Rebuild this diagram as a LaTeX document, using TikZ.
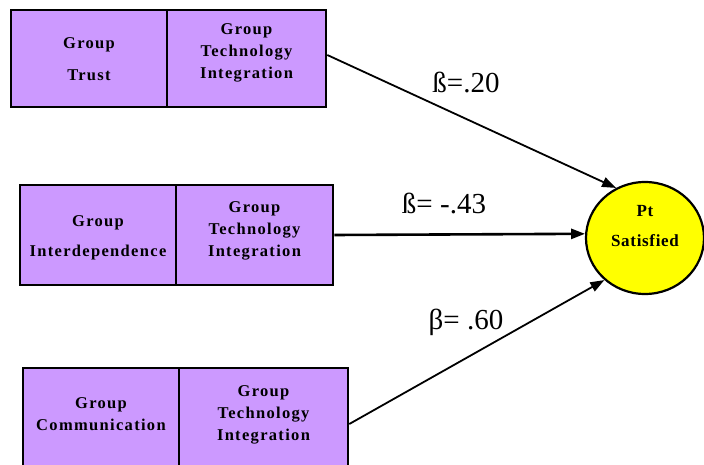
\documentclass[tikz,border=0pt]{standalone}
\usepackage{fontspec}
\setmainfont{Liberation Serif}
\newfontfamily\boxfont[LetterSpace=8]{Liberation Serif}
\newfontfamily\circfont[LetterSpace=4]{Liberation Serif}
\usetikzlibrary{shapes.geometric,arrows.meta}
\definecolor{boxpurple}{HTML}{CC99FF}
\definecolor{circyellow}{HTML}{FFFF00}
\tikzset{
  cell/.style={draw=black, line width=2.6pt, fill=boxpurple, inner sep=0pt},
  celltext/.style={font=\boxfont\bfseries\fontsize{16.5}{22}\selectfont, align=center, inner sep=0pt},
  arr/.style={line width=1.8pt, -{Triangle[length=14pt,width=10pt]}},
  coef/.style={font=\fontsize{29}{30}\selectfont, inner sep=0pt},
}
\begin{document}
\begin{tikzpicture}[x=1pt,y=-1pt]
\useasboundingbox (0,0) rectangle (704,465);
\clip (0,0) rectangle (704,465);
% row 1
\node[cell, minimum width=156pt, minimum height=97pt] (l1) at (89,58.5) {};
\node[cell, minimum width=159pt, minimum height=97pt] (r1) at (246.5,58.5) {};
\node[celltext] (l1t) at (89,59) {Group\\[10pt]Trust};
\node[celltext] (r1t) at (246.5,53) {Group\\Technology\\Integration};
% row 2
\node[cell, minimum width=156pt, minimum height=100pt] (l2) at (98,235) {};
\node[cell, minimum width=157pt, minimum height=100pt] (r2) at (254.5,235) {};
\node[celltext] (l2t) at (98,238) {Group\\[8pt]Interdependence};
\node[celltext] (r2t) at (254.5,231) {Group\\Technology\\Integration};
% row 3
\node[cell, minimum width=156pt, minimum height=112pt] (l3) at (101,424) {};
\node[cell, minimum width=169pt, minimum height=112pt] (r3) at (263.5,424) {};
\node[celltext] (l3t) at (101,414) {Group\\Communication};
\node[celltext] (r3t) at (263.5,415) {Group\\Technology\\Integration};
% outcome
\node[draw=black, line width=2.2pt, fill=circyellow, ellipse, minimum width=118pt, minimum height=112pt, inner sep=0pt] (pt) at (645,238) {};
\node[font=\circfont\bfseries\fontsize{17}{30}\selectfont, align=center, inner sep=0pt] (ptt) at (645,226) {Pt\\Satisfied};
% paths
\draw[arr] (r1.east |- 0,55) -- (pt.120);
\draw[arr, line width=2.6pt] (r2.east) -- (pt.176);
\draw[arr] (r3.east) -- (pt.226);
% coefficients
\node[coef] (b1) at (466,82) {ß=.20};
\node[coef] (b2) at (444,203) {ß= -.43};
\node[coef] (b3) at (466,322) {β= .60};
\end{tikzpicture}
\end{document}
